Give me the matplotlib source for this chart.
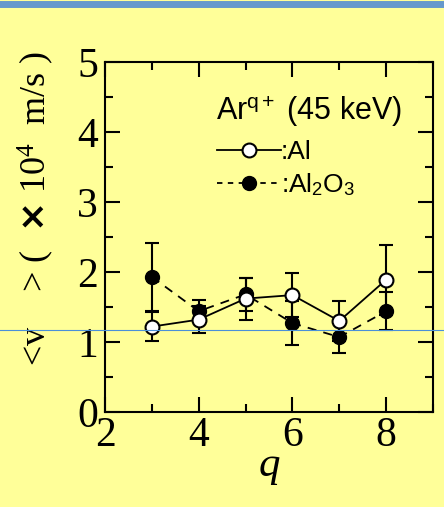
import matplotlib
matplotlib.use("Agg")
import matplotlib.pyplot as plt
from matplotlib.lines import Line2D

plt.rcParams['mathtext.fontset'] = 'custom'
plt.rcParams['mathtext.rm'] = 'Liberation Serif'
plt.rcParams['mathtext.it'] = 'Liberation Serif:italic'
plt.rcParams['mathtext.bf'] = 'DejaVu Sans:bold'
plt.rcParams['mathtext.sf'] = 'Liberation Sans'

q = [3, 4, 5, 6, 7, 8]
v_al = [1.22, 1.32, 1.62, 1.67, 1.30, 1.89]
err_al = [0.21, 0.19, 0.30, 0.31, 0.28, 0.50]
v_al2o3 = [1.93, 1.44, 1.68, 1.27, 1.07, 1.44]
err_al2o3 = [0.48, 0.16, 0.23, 0.31, 0.23, 0.27]

BG = '#FFFF99'
fig = plt.figure(figsize=(4.44, 5.07), dpi=100, facecolor=BG)
ax = fig.add_axes([105/444, 1-412/507, (433-105)/444, (412-62)/507])
ax.set_facecolor(BG)

ax.errorbar(q, v_al2o3, yerr=err_al2o3, fmt='o', color='black', ls='--', lw=1.3,
            dashes=(5, 4), ms=10, mfc='black', mec='black', capsize=5, elinewidth=1.5,
            capthick=1.5, zorder=2)
ax.errorbar(q, v_al, yerr=err_al, fmt='o', color='black', ls='-', lw=1.3,
            ms=10, mfc='white', mec='black', mew=1.5, capsize=5, elinewidth=1.5,
            capthick=1.5, zorder=3)

ax.set_xlim(2, 9)
ax.set_ylim(0, 5)
ax.set_xticks([2, 4, 6, 8])
ax.set_xticks([3, 5, 7, 9], minor=True)
ax.set_yticks([0, 1, 2, 3, 4, 5])
ax.set_yticks([0.5, 1.5, 2.5, 3.5, 4.5], minor=True)
for s in ax.spines.values():
    s.set_linewidth(1.5)
ax.tick_params(which='both', direction='in', top=True, right=True, width=1.5)
ax.tick_params(which='major', length=11)
ax.tick_params(which='minor', length=6)
ax.tick_params(axis='y', which='major', pad=5)
ax.tick_params(axis='x', which='major', pad=3)
for lab in ax.get_xticklabels() + ax.get_yticklabels():
    lab.set_family('Liberation Serif')
    lab.set_fontsize(30)

ax.set_xlabel('q', family='Liberation Serif', style='italic', fontsize=31, labelpad=-6)
ax.set_ylabel(r'<v    > (  $\mathbf{\times}$ 10$^{4}$  m/s )', family='Liberation Serif',
              fontsize=26, labelpad=0)
ax.yaxis.set_label_coords(-0.15, 0.58)

ax.text(0.905, 0.833, r'Ar$^{\mathsf{q+}}$ (45 keV)', transform=ax.transAxes, ha='right',
        va='baseline', family='Liberation Sans', fontsize=22)

h1 = Line2D([], [], color='black', ls='-', lw=1.3, marker='o', ms=10, mfc='white', mec='black', mew=1.5)
h2 = Line2D([], [], color='black', ls='--', dashes=(3, 3), lw=1.3, marker='o', ms=10, mfc='black', mec='black')
leg = ax.legend([h1, h2], [':Al', r':Al$_{\mathsf{2}}$O$_{\mathsf{3}}$'], loc='upper left',
                bbox_to_anchor=(0.31, 0.806), frameon=False, handlelength=2.4,
                handletextpad=0.0, labelspacing=0.25, borderaxespad=0,
                prop={'family': 'Liberation Sans', 'size': 19})

fig.add_artist(Line2D([0, 1], [1-3.5/507, 1-3.5/507], transform=fig.transFigure,
                      color='#6699CC', lw=5))
fig.add_artist(Line2D([0, 1], [1-330/507, 1-330/507], transform=fig.transFigure,
                      color='#4A90D9', lw=0.8))

fig.savefig('out.png', dpi=100, facecolor=BG)
